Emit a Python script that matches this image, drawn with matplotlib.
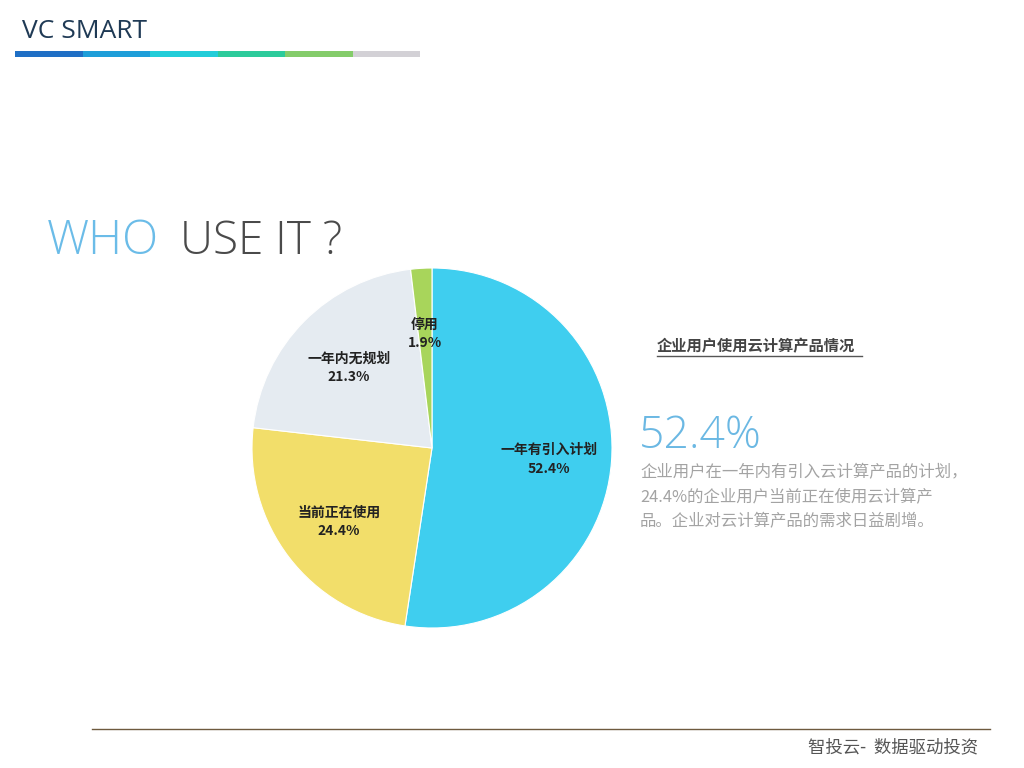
import matplotlib.pyplot as plt
import numpy as np

plt.rcParams['font.family'] = ['Noto Sans CJK SC', 'DejaVu Sans']

labels = ["一年有引入计划", "当前正在使用", "一年内无规划", "停用"]
values = [52.4, 24.4, 21.3, 1.9]
colors = ["#3FCEEF", "#F2DE6A", "#E5EBF1", "#A8D55B"]

bar_colors = ["#1F6FC5", "#1E9ED9", "#22CDD9", "#2CCB9B", "#84CC6A", "#D3D1D6"]

W, H = 1024, 768
fig = plt.figure(figsize=(W / 100, H / 100), dpi=100)

# background overlay axis in pixel coords
bg = fig.add_axes([0, 0, 1, 1])
bg.set_xlim(0, W)
bg.set_ylim(H, 0)
bg.axis("off")

# header
bg.text(22, 31, "VC SMART", fontsize=19, color="#1F3A55", family="Open Sans",
        va="center", ha="left")
seg_w = (420 - 15) / len(bar_colors)
for i, c in enumerate(bar_colors):
    bg.add_patch(plt.Rectangle((15 + i * seg_w, 51), seg_w, 6, color=c, lw=0))

# title
bg.text(47, 254, "WHO", fontsize=34, color="#6BBCE8", family="Open Sans",
        fontweight="light", va="baseline", ha="left")
bg.text(180, 254, "USE IT ?", fontsize=33, color="#4A4A4A", family="Open Sans",
        fontweight="light", va="baseline", ha="left")

# pie
ax = fig.add_axes([252 / W, (H - 628) / H, 360 / W, 360 / H])
wedges, _ = ax.pie(values, colors=colors, startangle=90, counterclock=False,
                   wedgeprops=dict(linewidth=0.8, edgecolor="white"))
ax.set_xlim(-1, 1)
ax.set_ylim(-1, 1)
ax.set_aspect("equal")
for w, lab, v in zip(wedges, labels, values):
    ang = np.deg2rad((w.theta1 + w.theta2) / 2)
    x, y = 0.65 * np.cos(ang), 0.65 * np.sin(ang)
    ax.text(x, y - 0.015, f"{lab}\n{v}%", ha="center", va="center", fontsize=10,
            fontweight="bold", color="#222222", linespacing=1.4)

# right-side text
bg.text(657, 346, "企业用户使用云计算产品情况", fontsize=11, fontweight="bold",
        color="#444444", va="center", ha="left")
bg.plot([657, 862], [356, 356], color="#555555", lw=1)
bg.text(639, 448, "52.4%", fontsize=32, color="#6BB8E3", family="Open Sans",
        fontweight="light", va="baseline", ha="left")
para = ["企业用户在一年内有引入云计算产品的计划，",
        "24.4%的企业用户当前正在使用云计算产",
        "品。企业对云计算产品的需求日益剧增。"]
for i, line in enumerate(para):
    bg.text(640, 473 + i * 24.5, line, fontsize=11.8, color="#A3A3A3",
            va="center", ha="left")

# footer
bg.plot([92, 990], [729, 729], color="#6E5A3E", lw=1)
bg.text(978, 747, "智投云-  数据驱动投资", fontsize=12.5, color="#555555",
        va="center", ha="right")

fig.savefig("out.png", dpi=100)
